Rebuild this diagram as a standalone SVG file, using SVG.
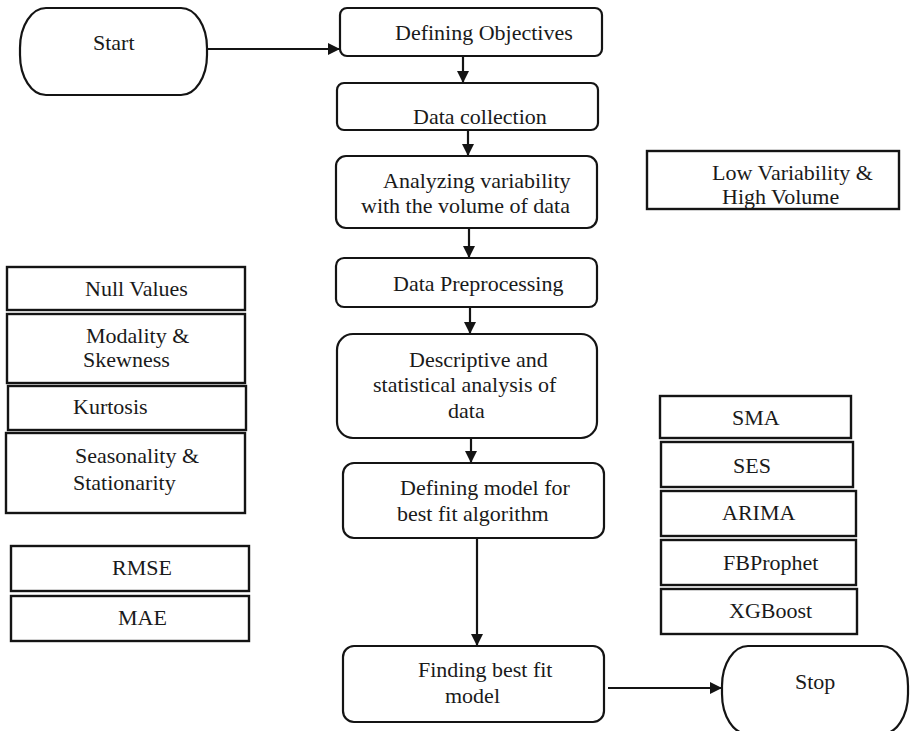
<svg xmlns="http://www.w3.org/2000/svg" width="914" height="731" viewBox="0 0 914 731">
<style>
  .box{fill:#fff;stroke:#141414;stroke-width:2.2}
  .sq{fill:#fff;stroke:#141414;stroke-width:2.4}
  .t{font-family:"Liberation Serif","Times New Roman",serif;font-size:22px;fill:#1a1a1a}
  .c{fill:none;stroke:#141414;stroke-width:2.2}
</style>
<defs>
  <marker id="ah" markerUnits="userSpaceOnUse" markerWidth="12" markerHeight="12" refX="12" refY="6" orient="auto">
    <path d="M0,0 L12,6 L0,12 z" fill="#141414"/>
  </marker>
</defs>
<rect width="914" height="731" fill="#fff"/>

<g id="connectors">
  <line class="c" x1="207" y1="49" x2="340" y2="49" marker-end="url(#ah)"/>
  <line class="c" x1="463" y1="56" x2="463" y2="83" marker-end="url(#ah)"/>
  <line class="c" x1="468" y1="130" x2="468" y2="156" marker-end="url(#ah)"/>
  <line class="c" x1="469" y1="228" x2="469" y2="258" marker-end="url(#ah)"/>
  <line class="c" x1="470" y1="307" x2="470" y2="334" marker-end="url(#ah)"/>
  <line class="c" x1="471" y1="438" x2="471" y2="463" marker-end="url(#ah)"/>
  <line class="c" x1="477" y1="538" x2="477" y2="646" marker-end="url(#ah)"/>
  <line class="c" x1="608" y1="688" x2="722" y2="688" marker-end="url(#ah)"/>
</g>

<g id="start">
  <rect class="box" x="20" y="8" width="187" height="87" rx="26" ry="40"/>
  <text class="t" x="93" y="50">Start</text>
</g>
<g id="defining-objectives">
  <rect class="box" x="340" y="8" width="262" height="48" rx="7"/>
  <text class="t" x="395" y="40">Defining Objectives</text>
</g>
<g id="data-collection">
  <rect class="box" x="337" y="83" width="261" height="47" rx="7"/>
  <text class="t" x="413" y="124">Data collection</text>
</g>
<g id="analyzing">
  <rect class="box" x="336" y="156" width="261" height="72" rx="10"/>
  <text class="t" x="383" y="188">Analyzing variability</text>
  <text class="t" x="361" y="213">with the volume of data</text>
</g>
<g id="preprocessing">
  <rect class="box" x="336" y="258" width="261" height="49" rx="8"/>
  <text class="t" x="393" y="291">Data Preprocessing</text>
</g>
<g id="descriptive">
  <rect class="box" x="337" y="334" width="260" height="104" rx="16"/>
  <text class="t" x="409" y="367">Descriptive and</text>
  <text class="t" x="373" y="392">statistical analysis of</text>
  <text class="t" x="448" y="418">data</text>
</g>
<g id="defining-model">
  <rect class="box" x="343" y="463" width="261" height="75" rx="11"/>
  <text class="t" x="400" y="495">Defining model for</text>
  <text class="t" x="397" y="521">best fit algorithm</text>
</g>
<g id="finding">
  <rect class="box" x="343" y="646" width="261" height="76" rx="11"/>
  <text class="t" x="418" y="677">Finding best fit</text>
  <text class="t" x="445" y="703">model</text>
</g>
<g id="stop">
  <rect class="box" x="722" y="646" width="186" height="88" rx="26" ry="40"/>
  <text class="t" x="795" y="689">Stop</text>
</g>

<g id="low-variability">
  <rect class="sq" x="647" y="151" width="252" height="58"/>
  <text class="t" x="712" y="180">Low Variability &amp;</text>
  <text class="t" x="722" y="204">High Volume</text>
</g>

<g id="null-values">
  <rect class="sq" x="7" y="267" width="238" height="43"/>
  <text class="t" x="85" y="296">Null Values</text>
</g>
<g id="modality">
  <rect class="sq" x="7" y="314" width="238" height="69"/>
  <text class="t" x="86" y="343">Modality &amp;</text>
  <text class="t" x="83" y="367">Skewness</text>
</g>
<g id="kurtosis">
  <rect class="sq" x="8" y="386" width="238" height="44"/>
  <text class="t" x="73" y="414">Kurtosis</text>
</g>
<g id="seasonality">
  <rect class="sq" x="6" y="433" width="239" height="80"/>
  <text class="t" x="75" y="463">Seasonality &amp;</text>
  <text class="t" x="73" y="490">Stationarity</text>
</g>
<g id="rmse">
  <rect class="sq" x="11" y="546" width="238" height="45"/>
  <text class="t" x="112" y="575">RMSE</text>
</g>
<g id="mae">
  <rect class="sq" x="11" y="596" width="238" height="45"/>
  <text class="t" x="118" y="625">MAE</text>
</g>

<g id="sma">
  <rect class="sq" x="660" y="396" width="191" height="42"/>
  <text class="t" x="732" y="425">SMA</text>
</g>
<g id="ses">
  <rect class="sq" x="661" y="442" width="192" height="45"/>
  <text class="t" x="733" y="473">SES</text>
</g>
<g id="arima">
  <rect class="sq" x="661" y="491" width="195" height="45"/>
  <text class="t" x="722" y="520">ARIMA</text>
</g>
<g id="fbprophet">
  <rect class="sq" x="661" y="540" width="195" height="45"/>
  <text class="t" x="723" y="570">FBProphet</text>
</g>
<g id="xgboost">
  <rect class="sq" x="661" y="589" width="196" height="45"/>
  <text class="t" x="729" y="618">XGBoost</text>
</g>
</svg>
